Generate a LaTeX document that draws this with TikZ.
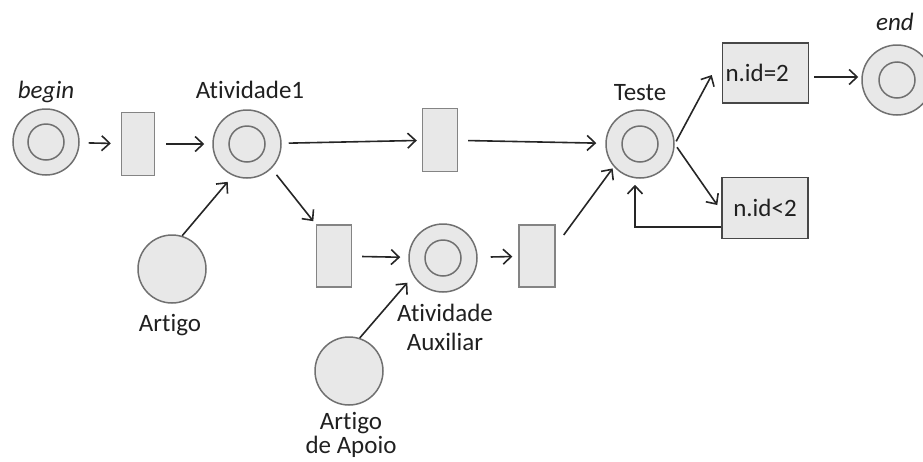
\documentclass[tikz,border=0pt]{standalone}
\usepackage{fontspec}
\setmainfont{Carlito}[Ligatures=CommonOff]
\usetikzlibrary{arrows.meta,calc}
\definecolor{cfill}{HTML}{E8E8E8}
\definecolor{cstroke}{HTML}{707070}
\definecolor{rstroke}{HTML}{848484}
\definecolor{carrow}{HTML}{262626}
\definecolor{ctext}{HTML}{202020}
\newcommand{\lbfont}{\fontsize{25}{28.5}\selectfont}
\tikzset{
  place/.style={circle, draw=cstroke, fill=cfill, line width=1.5pt, minimum size=68pt, inner sep=0pt,
    path picture={\draw[cstroke,line width=1.5pt] (path picture bounding box.center) circle (18pt);}},
  res/.style={circle, draw=cstroke, fill=cfill, line width=1.5pt, minimum size=68pt, inner sep=0pt},
  trans/.style={rectangle, draw=rstroke, fill=cfill, line width=1.4pt, minimum width=35pt, minimum height=62pt, inner sep=0pt},
  guard/.style={rectangle, draw=carrow!85, fill=cfill, line width=1.5pt, minimum width=86pt, minimum height=61pt, inner sep=3pt, font=\lbfont, text=ctext},
  arr/.style={-{Straight Barb[length=8pt,width=15pt,line width=1.6pt]}, line width=1.6pt, draw=carrow},
  lbl/.style={font=\lbfont, text=ctext, inner sep=0pt, anchor=base, align=center}
}
\begin{document}
\begin{tikzpicture}[x=1pt,y=-1pt]
\useasboundingbox (0,0) rectangle (923,461);
\clip (0,0) rectangle (923,461);
% places
\node[place, minimum size=66pt] (begin) at (46,142) {};
\node[place] (a1) at (247,144) {};
\node[place] (teste) at (640,144) {};
\node[place] (aux) at (443,258) {};
\node[place, minimum size=70pt] (end) at (897,80) {};
\node[res] (artigo) at (172,269) {};
\node[res] (apoio) at (349,371) {};
% transitions
\node[trans, minimum width=33pt, minimum height=63pt] (t1) at (138,144) {};
\node[trans, minimum height=63pt] (t2) at (440,140) {};
\node[trans] (t3) at (334,256) {};
\node[trans, minimum width=36pt] (t4) at (537,256) {};
\node[guard, text width=80pt, align=left, minimum height=60pt] (id2) at (765.5,73) {n.id=2};
\node[guard] (idl2) at (765,208) {n.id<2};
% labels
\node[lbl] (lbegin) at (46,98) {\itshape begin};
\node[lbl] (la1) at (250,98) {Atividade1};
\node[lbl] (lteste) at (640,100) {Teste};
\node[lbl] (lend) at (895,30) {\itshape end};
\node[lbl] (lartigo) at (170,331) {Artigo};
\node[lbl] (laux) at (445,350) {Atividade\\Auxiliar};
\node[lbl] (lapoio) at (351,453) {Artigo\\[-5pt]de Apoio};
% arcs
\draw[arr, shorten <=9pt, shorten >=10pt] (begin) -- (t1);
\draw[arr, shorten <=11pt, shorten >=8pt] (t1) -- (a1);
\draw[arr, shorten <=7pt, shorten >=5pt] (a1) -- (t2);
\draw[arr, shorten <=10pt, shorten >=9pt] (t2) -- (teste);
\draw[arr, shorten <=8pt, shorten >=4pt] (a1.-45) -- (t3.north west);
\draw[arr, shorten >=8pt] (artigo.73) -- (a1.246);
\draw[arr, shorten >=9pt] (apoio.72) -- (aux.211);
\draw[arr, shorten <=10pt, shorten >=8pt] (t3) -- (aux);
\draw[arr, shorten <=13pt, shorten >=6pt] (aux) -- (t4);
\draw[arr, shorten >=2pt] ([shift={(8,-21)}]t4.east) -- (teste.221);
\draw[arr, shorten <=3pt] (teste.east) -- ([shift={(-10,2)}]id2.west);
\draw[arr, shorten <=4pt] (teste.east) -- ([shift={(-4,-3)}]idl2.west);
\draw[arr, shorten >=6pt] ([shift={(0,19)}]idl2.west) -| ([shift={(-5,0)}]teste.south);
\draw[arr] ([shift={(5,4)}]id2.east) -- ([shift={(-3,-3)}]end.west);
\end{tikzpicture}
\end{document}
